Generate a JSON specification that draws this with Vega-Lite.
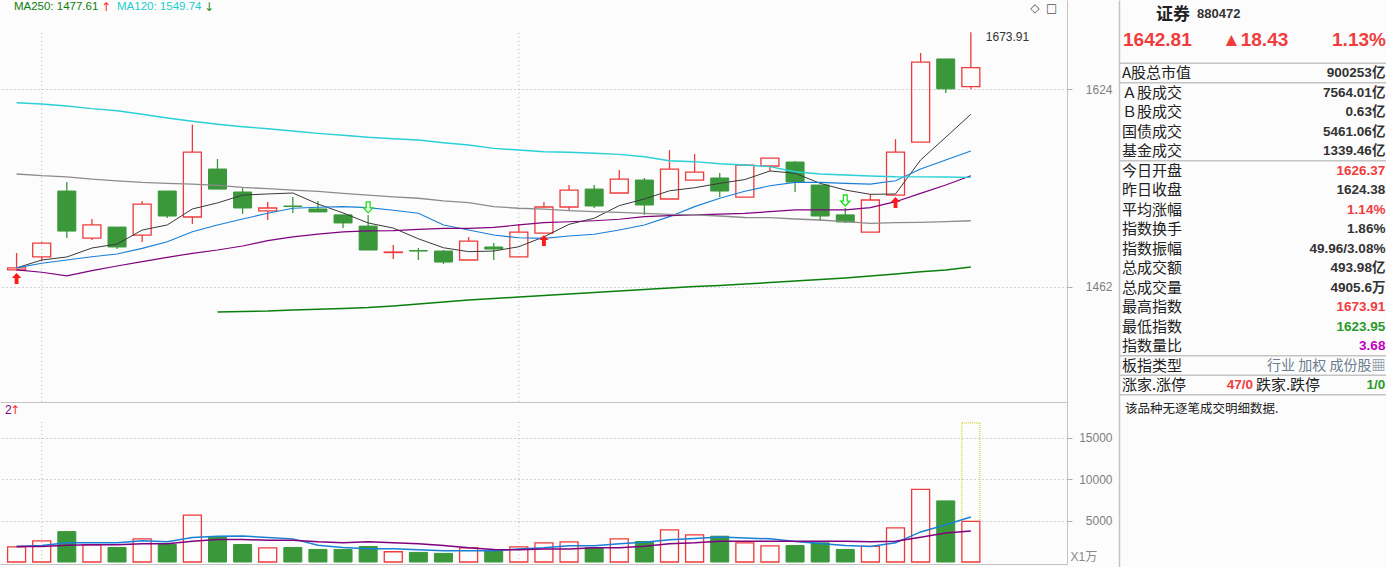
{
  "$schema": "https://vega.github.io/schema/vega-lite/v6.json",
  "background": "#fcfcfc",
  "padding": 0,
  "config": {
    "view": {"stroke": null},
    "font": "Liberation Sans",
    "axisRight": {"grid": true, "gridDash": [1, 3], "gridColor": "#a8a8a8", "gridWidth": 1, "domainColor": "#c4c4c4", "tickColor": "#b0b0b0", "tickSize": 5,
                  "labelColor": "#7f7f7f", "labelFont": "Liberation Sans", "labelFontSize": 12, "labelAlign": "right", "labelBaseline": "middle", "labelPadding": 40,
                  "titleAngle": 0, "titleAlign": "left", "titleBaseline": "bottom", "titleX": 3, "titleY": 161, "titleFontSize": 12, "titleFontWeight": "normal",
                  "titleColor": "#8a8a8a", "titleFont": "Liberation Sans, Noto Sans CJK SC"},
    "axisLeft": {"labels": false, "ticks": false, "grid": false, "domainColor": "#c4c4c4", "domainWidth": 1.5},
    "axisBottom": {"labels": false, "ticks": false, "grid": false, "domainColor": "#c4c4c4"}
  },
  "resolve": {"scale": {"color": "independent", "strokeWidth": "independent"}},
  "datasets": {
    "k": [
      {"i":1,"o":1475.3,"c":1476.9,"h":1488.6,"l":1474.5,"v":1835,"m5":1476.9,"m10":1476.9,"m20":1475.3,"m60":1552.5,"m120":1612.4,"vm5":1875,"vm10":1875,"sig":"B"},
      {"i":2,"o":1485.5,"c":1496.5,"h":1497.3,"l":1482.3,"v":2553,"m5":1483.1,"m10":1480.5,"m20":1473.5,"m60":1551.1,"m120":1611.4,"vm5":1995,"vm10":1875},
      {"i":3,"o":1538.5,"c":1506.1,"h":1545.9,"l":1500.5,"v":3670,"m5":1485.5,"m10":1483.1,"m20":1470.6,"m60":1550.2,"m120":1609.7,"vm5":2314,"vm10":2035},
      {"i":4,"o":1500.5,"c":1511.0,"h":1515.8,"l":1498.9,"v":2074,"m5":1492.6,"m10":1485.7,"m20":1474.8,"m60":1548.3,"m120":1607.4,"vm5":2314,"vm10":2075},
      {"i":5,"o":1509.3,"c":1493.4,"h":1509.3,"l":1491.8,"v":1755,"m5":1495.7,"m10":1487.8,"m20":1478.4,"m60":1546.9,"m120":1605.6,"vm5":2314,"vm10":2075},
      {"i":6,"o":1502.9,"c":1527.9,"h":1530.4,"l":1497.3,"v":2792,"m5":1506.9,"m10":1492.3,"m20":1481.8,"m60":1545.6,"m120":1602.6,"vm5":2554,"vm10":2195},
      {"i":7,"o":1538.5,"c":1518.2,"h":1538.5,"l":1516.6,"v":2114,"m5":1511.0,"m10":1497.5,"m20":1485.2,"m60":1544.8,"m120":1599.4,"vm5":2434,"vm10":2195},
      {"i":8,"o":1517.4,"c":1570.7,"h":1593.7,"l":1511.8,"v":5665,"m5":1523.9,"m10":1505.5,"m20":1488.4,"m60":1544.2,"m120":1596.6,"vm5":2953,"vm10":2514},
      {"i":9,"o":1556.6,"c":1540.1,"h":1564.9,"l":1540.1,"v":3071,"m5":1528.8,"m10":1511.0,"m20":1491.0,"m60":1543.1,"m120":1594.1,"m250":1442.7,"vm5":3112,"vm10":2713},
      {"i":10,"o":1537.7,"c":1524.7,"h":1540.9,"l":1519.9,"v":2114,"m5":1535.2,"m10":1515.8,"m20":1494.2,"m60":1541.5,"m120":1592.0,"m250":1443.1,"vm5":3152,"vm10":2713},
      {"i":11,"o":1522.3,"c":1524.7,"h":1529.6,"l":1515.0,"v":1715,"m5":1536.1,"m10":1520.4,"m20":1498.4,"m60":1540.4,"m120":1590.3,"m250":1443.4,"vm5":2953,"vm10":2633},
      {"i":12,"o":1526.3,"c":1525.9,"h":1533.6,"l":1520.7,"v":1755,"m5":1536.9,"m10":1524.5,"m20":1501.5,"m60":1539.3,"m120":1588.4,"m250":1444.2,"vm5":2793,"vm10":2633},
      {"i":13,"o":1523.9,"c":1521.5,"h":1530.4,"l":1521.5,"v":1516,"m5":1527.9,"m10":1525.3,"m20":1503.7,"m60":1538.2,"m120":1586.4,"m250":1444.7,"vm5":2035,"vm10":2434},
      {"i":14,"o":1519.1,"c":1512.6,"h":1519.1,"l":1508.5,"v":1516,"m5":1520.7,"m10":1525.8,"m20":1505.5,"m60":1536.6,"m120":1584.8,"m250":1445.4,"vm5":1756,"vm10":2314},
      {"i":15,"o":1510.1,"c":1491.0,"h":1519.1,"l":1491.0,"v":1875,"m5":1512.6,"m10":1525.0,"m20":1506.3,"m60":1535.2,"m120":1583.1,"m250":1446.1,"vm5":1596,"vm10":2434,"sig":"S"},
      {"i":16,"o":1489.0,"c":1489.4,"h":1494.9,"l":1483.9,"v":1237,"m5":1508.5,"m10":1522.9,"m20":1506.5,"m60":1533.8,"m120":1581.9,"m250":1447.3,"vm5":1596,"vm10":2314},
      {"i":17,"o":1490.6,"c":1490.2,"h":1492.6,"l":1483.1,"v":1157,"m5":1499.9,"m10":1520.4,"m20":1507.5,"m60":1532.6,"m120":1580.8,"m250":1448.8,"vm5":1476,"vm10":2195},
      {"i":18,"o":1490.2,"c":1481.5,"h":1491.0,"l":1480.0,"v":1037,"m5":1492.8,"m10":1511.0,"m20":1508.3,"m60":1530.4,"m120":1578.5,"m250":1450.4,"vm5":1357,"vm10":1995},
      {"i":19,"o":1483.1,"c":1498.1,"h":1501.3,"l":1483.1,"v":1715,"m5":1489.7,"m10":1506.9,"m20":1508.3,"m60":1529.0,"m120":1576.6,"m250":1451.9,"vm5":1357,"vm10":1716},
      {"i":20,"o":1493.4,"c":1491.8,"h":1496.5,"l":1483.1,"v":1396,"m5":1490.2,"m10":1502.9,"m20":1509.1,"m60":1525.8,"m120":1573.8,"m250":1453.1,"vm5":1357,"vm10":1516},
      {"i":21,"o":1485.5,"c":1505.3,"h":1511.8,"l":1485.5,"v":1835,"m5":1493.6,"m10":1500.7,"m20":1511.0,"m60":1524.5,"m120":1572.4,"m250":1454.2,"vm5":1556,"vm10":1476},
      {"i":22,"o":1504.5,"c":1525.5,"h":1529.6,"l":1504.5,"v":2314,"m5":1501.5,"m10":1500.3,"m20":1512.8,"m60":1523.7,"m120":1571.0,"m250":1455.4,"vm5":1716,"vm10":1556,"sig":"B"},
      {"i":23,"o":1525.5,"c":1539.3,"h":1543.4,"l":1523.1,"v":2434,"m5":1511.5,"m10":1502.1,"m20":1513.6,"m60":1522.5,"m120":1570.5,"m250":1456.5,"vm5":1955,"vm10":1556},
      {"i":24,"o":1540.1,"c":1526.3,"h":1543.4,"l":1524.7,"v":1715,"m5":1516.4,"m10":1503.5,"m20":1514.4,"m60":1521.7,"m120":1569.7,"m250":1457.7,"vm5":1955,"vm10":1716},
      {"i":25,"o":1536.9,"c":1548.3,"h":1555.8,"l":1536.9,"v":2792,"m5":1526.6,"m10":1506.9,"m20":1515.6,"m60":1521.2,"m120":1568.8,"m250":1458.8,"vm5":2195,"vm10":1716},
      {"i":26,"o":1547.5,"c":1527.1,"h":1549.2,"l":1519.1,"v":2474,"m5":1532.0,"m10":1511.0,"m20":1517.7,"m60":1520.4,"m120":1566.8,"m250":1460.0,"vm5":2394,"vm10":1915},
      {"i":27,"o":1532.0,"c":1556.6,"h":1572.4,"l":1532.0,"v":3870,"m5":1538.7,"m10":1517.7,"m20":1518.5,"m60":1519.6,"m120":1563.5,"m250":1461.2,"vm5":2673,"vm10":2195},
      {"i":28,"o":1547.5,"c":1554.1,"h":1569.1,"l":1547.5,"v":3271,"m5":1541.2,"m10":1525.8,"m20":1519.1,"m60":1519.1,"m120":1562.7,"m250":1462.3,"vm5":2833,"vm10":2314},
      {"i":29,"o":1549.2,"c":1538.5,"h":1553.3,"l":1533.6,"v":3112,"m5":1544.8,"m10":1532.6,"m20":1519.7,"m60":1518.2,"m120":1561.0,"m250":1463.1,"vm5":3032,"vm10":2514},
      {"i":30,"o":1533.6,"c":1559.9,"h":1560.8,"l":1533.6,"v":2314,"m5":1547.9,"m10":1538.3,"m20":1520.4,"m60":1517.0,"m120":1560.0,"m250":1464.3,"vm5":2913,"vm10":2514},
      {"i":31,"o":1559.1,"c":1565.7,"h":1565.7,"l":1555.0,"v":1955,"m5":1555.0,"m10":1542.8,"m20":1521.7,"m60":1516.9,"m120":1558.6,"m250":1465.4,"vm5":2793,"vm10":2514},
      {"i":32,"o":1562.4,"c":1545.9,"h":1563.3,"l":1537.7,"v":1995,"m5":1553.1,"m10":1545.6,"m20":1523.1,"m60":1515.8,"m120":1554.4,"m250":1466.6,"vm5":2474,"vm10":2514},
      {"i":33,"o":1543.4,"c":1518.2,"h":1543.4,"l":1514.2,"v":2314,"m5":1544.8,"m10":1545.6,"m20":1523.1,"m60":1515.0,"m120":1552.5,"m250":1467.8,"vm5":2234,"vm10":2514},
      {"i":34,"o":1519.1,"c":1513.4,"h":1524.7,"l":1512.6,"v":1516,"m5":1539.3,"m10":1544.8,"m20":1523.1,"m60":1513.6,"m120":1551.7,"m250":1469.0,"vm5":1995,"vm10":2514,"sig":"S"},
      {"i":35,"o":1505.3,"c":1531.2,"h":1536.1,"l":1505.3,"v":1875,"m5":1535.8,"m10":1544.2,"m20":1525.0,"m60":1512.3,"m120":1550.8,"m250":1470.6,"vm5":1875,"vm10":2434},
      {"i":36,"o":1535.2,"c":1570.7,"h":1581.6,"l":1535.2,"v":4110,"m5":1536.1,"m10":1546.9,"m20":1529.8,"m60":1512.8,"m120":1550.2,"m250":1472.2,"vm5":2314,"vm10":2514,"sig":"B"},
      {"i":37,"o":1579.1,"c":1647.7,"h":1655.7,"l":1579.1,"v":8778,"m5":1564.1,"m10":1556.6,"m20":1536.6,"m60":1513.1,"m120":1550.1,"m250":1473.8,"vm5":3631,"vm10":2993},
      {"i":38,"o":1650.4,"c":1624.38,"h":1650.4,"l":1620.8,"v":7381,"m5":1583.1,"m10":1564.1,"m20":1543.4,"m60":1513.6,"m120":1550.0,"m250":1475.3,"vm5":4509,"vm10":3511},
      {"i":39,"o":1626.37,"c":1642.81,"h":1673.91,"l":1623.95,"v":4905.6,"proj":16798,"m5":1602.6,"m10":1571.6,"m20":1551.1,"m60":1514.4,"m120":1549.74,"m250":1477.61,"vm5":5426,"vm10":3751}
    ],
    "info": [
      {"line":3,"k":"A股总市值","v":"900253亿","vc":"d"},
      {"line":4,"k":"Ａ股成交","v":"7564.01亿","vc":"d"},
      {"line":5,"k":"Ｂ股成交","v":"0.63亿","vc":"d"},
      {"line":6,"k":"国债成交","v":"5461.06亿","vc":"d"},
      {"line":7,"k":"基金成交","v":"1339.46亿","vc":"d"},
      {"line":8,"k":"今日开盘","v":"1626.37","vc":"r"},
      {"line":9,"k":"昨日收盘","v":"1624.38","vc":"d"},
      {"line":10,"k":"平均涨幅","v":"1.14%","vc":"r"},
      {"line":11,"k":"指数换手","v":"1.86%","vc":"d"},
      {"line":12,"k":"指数振幅","v":"49.96/3.08%","vc":"d"},
      {"line":13,"k":"总成交额","v":"493.98亿","vc":"d"},
      {"line":14,"k":"总成交量","v":"4905.6万","vc":"d"},
      {"line":15,"k":"最高指数","v":"1673.91","vc":"r"},
      {"line":16,"k":"最低指数","v":"1623.95","vc":"g"},
      {"line":17,"k":"指数量比","v":"3.68","vc":"p"},
      {"line":18,"k":"板指类型","v":"行业 加权 成份股▦","vc":"s"},
      {"line":19,"k":"涨家.涨停","v":"1/0","vc":"g"}
    ]
  },
  "hconcat": [
    {
      "resolve": {"scale": {"color": "independent", "strokeWidth": "independent"}},
      "vconcat": [
        {
          "width": 1067,
          "height": 402,
          "data": {"name": "k"},
          "layer": [
            {
              "data": {"values": [{"i": 2}, {"i": 21}]},
              "mark": {"type": "rule", "color": "#b4b4b4", "strokeDash": [1, 3], "strokeWidth": 1},
              "encoding": {
                "x": {"field": "i", "type": "quantitative", "scale": {"domain": [0.5385, 42.63], "nice": false, "zero": false}, "axis": {"title": null}},
                "y": {"datum": 1673.5, "type": "quantitative", "scale": {"type": "log", "domain": [1375.27, 1702.96], "nice": false, "zero": false}, "axis": {"orient": "right", "values": [1462, 1624], "format": "d", "title": null}},
                "y2": {"datum": 1375.27}
              }
            },
            {
              "transform": [{"filter": "datum.c >= datum.o"}],
              "mark": {"type": "rule", "color": "#ee3a3a", "strokeWidth": 1.3},
              "encoding": {
                "x": {"field": "i", "type": "quantitative", "scale": {"domain": [0.5385, 42.63], "nice": false, "zero": false}, "axis": {"title": null}},
                "y": {"field": "h", "type": "quantitative", "scale": {"type": "log", "domain": [1375.27, 1702.96], "nice": false, "zero": false}, "axis": {"orient": "right", "values": [1462, 1624], "format": "d", "title": null}},
                "y2": {"field": "c"}
              }
            },
            {
              "transform": [{"filter": "datum.c >= datum.o"}],
              "mark": {"type": "rule", "color": "#ee3a3a", "strokeWidth": 1.3},
              "encoding": {
                "x": {"field": "i", "type": "quantitative", "scale": {"domain": [0.5385, 42.63], "nice": false, "zero": false}, "axis": {"title": null}},
                "y": {"field": "o", "type": "quantitative", "scale": {"type": "log", "domain": [1375.27, 1702.96], "nice": false, "zero": false}, "axis": {"orient": "right", "values": [1462, 1624], "format": "d", "title": null}},
                "y2": {"field": "l"}
              }
            },
            {
              "transform": [{"filter": "datum.c < datum.o"}],
              "mark": {"type": "rule", "color": "#3a983a", "strokeWidth": 1.3},
              "encoding": {
                "x": {"field": "i", "type": "quantitative", "scale": {"domain": [0.5385, 42.63], "nice": false, "zero": false}, "axis": {"title": null}},
                "y": {"field": "h", "type": "quantitative", "scale": {"type": "log", "domain": [1375.27, 1702.96], "nice": false, "zero": false}, "axis": {"orient": "right", "values": [1462, 1624], "format": "d", "title": null}},
                "y2": {"field": "l"}
              }
            },
            {
              "transform": [{"filter": "datum.c >= datum.o"}],
              "mark": {"type": "bar", "size": 18, "fill": "transparent", "stroke": "#ee3a3a", "strokeWidth": 1.3},
              "encoding": {
                "x": {"field": "i", "type": "quantitative", "scale": {"domain": [0.5385, 42.63], "nice": false, "zero": false}, "axis": {"title": null}},
                "y": {"field": "o", "type": "quantitative", "scale": {"type": "log", "domain": [1375.27, 1702.96], "nice": false, "zero": false}, "axis": {"orient": "right", "values": [1462, 1624], "format": "d", "title": null}},
                "y2": {"field": "c"}
              }
            },
            {
              "transform": [{"filter": "datum.c < datum.o"}],
              "mark": {"type": "bar", "size": 18, "fill": "#3a983a", "stroke": "#3a983a", "strokeWidth": 1},
              "encoding": {
                "x": {"field": "i", "type": "quantitative", "scale": {"domain": [0.5385, 42.63], "nice": false, "zero": false}, "axis": {"title": null}},
                "y": {"field": "o", "type": "quantitative", "scale": {"type": "log", "domain": [1375.27, 1702.96], "nice": false, "zero": false}, "axis": {"orient": "right", "values": [1462, 1624], "format": "d", "title": null}},
                "y2": {"field": "c"}
              }
            },
            {
              "transform": [{"fold": ["m5", "m10", "m20", "m60", "m120", "m250"], "as": ["ma", "val"]}],
              "mark": {"type": "line", "interpolate": "linear"},
              "encoding": {
                "x": {"field": "i", "type": "quantitative", "scale": {"domain": [0.5385, 42.63], "nice": false, "zero": false}, "axis": {"title": null}},
                "y": {"field": "val", "type": "quantitative", "scale": {"type": "log", "domain": [1375.27, 1702.96], "nice": false, "zero": false}, "axis": {"orient": "right", "values": [1462, 1624], "format": "d", "title": null}},
                "color": {"field": "ma", "type": "nominal", "scale": {"domain": ["m5", "m10", "m20", "m60", "m120", "m250"], "range": ["#3a3a3a", "#1a7fd6", "#800080", "#8c8c8c", "#2ad0d6", "#0b7f0b"]}, "legend": null},
                "strokeWidth": {"field": "ma", "type": "ordinal", "scale": {"domain": ["m5", "m10", "m20", "m60", "m120", "m250"], "range": [1, 1.5, 1.5, 1.3, 1.5, 1.5]}, "legend": null}
              }
            },
            {
              "transform": [{"filter": "datum.sig == 'B'"}],
              "mark": {"type": "point", "shape": "M0,-1L0.85,-0.1L0.35,-0.1L0.35,1L-0.35,1L-0.35,-0.1L-0.85,-0.1Z", "size": 121, "filled": true, "fill": "#ff1a1a", "strokeWidth": 0, "opacity": 1, "yOffset": 7.5},
              "encoding": {
                "x": {"field": "i", "type": "quantitative", "scale": {"domain": [0.5385, 42.63], "nice": false, "zero": false}, "axis": {"title": null}},
                "y": {"field": "l", "type": "quantitative", "scale": {"type": "log", "domain": [1375.27, 1702.96], "nice": false, "zero": false}, "axis": {"orient": "right", "values": [1462, 1624], "format": "d", "title": null}}
              }
            },
            {
              "transform": [{"filter": "datum.sig == 'S'"}],
              "mark": {"type": "point", "shape": "M0,1L0.85,0.1L0.35,0.1L0.35,-1L-0.35,-1L-0.35,0.1L-0.85,0.1Z", "size": 121, "filled": true, "fill": "#fcfcfc", "stroke": "#1ee01e", "strokeWidth": 1.3, "opacity": 1, "yOffset": -7.5},
              "encoding": {
                "x": {"field": "i", "type": "quantitative", "scale": {"domain": [0.5385, 42.63], "nice": false, "zero": false}, "axis": {"title": null}},
                "y": {"field": "h", "type": "quantitative", "scale": {"type": "log", "domain": [1375.27, 1702.96], "nice": false, "zero": false}, "axis": {"orient": "right", "values": [1462, 1624], "format": "d", "title": null}}
              }
            },
            {
              "transform": [{"filter": "datum.i == 39"}],
              "mark": {"type": "text", "align": "left", "baseline": "middle", "dx": 15, "dy": 5, "font": "Liberation Sans", "fontSize": 12, "color": "#333333"},
              "encoding": {
                "x": {"field": "i", "type": "quantitative", "scale": {"domain": [0.5385, 42.63], "nice": false, "zero": false}, "axis": {"title": null}},
                "y": {"field": "h", "type": "quantitative", "scale": {"type": "log", "domain": [1375.27, 1702.96], "nice": false, "zero": false}, "axis": {"orient": "right", "values": [1462, 1624], "format": "d", "title": null}},
                "text": {"field": "h", "type": "quantitative", "format": ".2f"}
              }
            },
            {
              "data": {"values": [{"t": "MA250: 1477.61"}]},
              "mark": {"type": "text", "align": "left", "baseline": "middle", "font": "Liberation Sans", "fontSize": 11.5, "color": "#0b7f0b"},
              "encoding": {
                "x": {"datum": 0.8935, "type": "quantitative", "scale": {"domain": [0.5385, 42.63], "nice": false, "zero": false}, "axis": {"title": null}},
                "y": {"datum": 1696.6, "type": "quantitative", "scale": {"type": "log", "domain": [1375.27, 1702.96], "nice": false, "zero": false}, "axis": {"orient": "right", "values": [1462, 1624], "format": "d", "title": null}},
                "text": {"field": "t"}
              }
            },
            {
              "data": {"values": [{"t": "↑"}]},
              "mark": {"type": "text", "align": "center", "baseline": "middle", "font": "DejaVu Sans", "fontSize": 12, "color": "#ff2a2a"},
              "encoding": {
                "x": {"datum": 4.56, "type": "quantitative", "scale": {"domain": [0.5385, 42.63], "nice": false, "zero": false}, "axis": {"title": null}},
                "y": {"datum": 1696.6, "type": "quantitative", "scale": {"type": "log", "domain": [1375.27, 1702.96], "nice": false, "zero": false}, "axis": {"orient": "right", "values": [1462, 1624], "format": "d", "title": null}},
                "text": {"field": "t"}
              }
            },
            {
              "data": {"values": [{"t": "MA120: 1549.74"}]},
              "mark": {"type": "text", "align": "left", "baseline": "middle", "font": "Liberation Sans", "fontSize": 11.5, "color": "#22cccc"},
              "encoding": {
                "x": {"datum": 5.0, "type": "quantitative", "scale": {"domain": [0.5385, 42.63], "nice": false, "zero": false}, "axis": {"title": null}},
                "y": {"datum": 1696.6, "type": "quantitative", "scale": {"type": "log", "domain": [1375.27, 1702.96], "nice": false, "zero": false}, "axis": {"orient": "right", "values": [1462, 1624], "format": "d", "title": null}},
                "text": {"field": "t"}
              }
            },
            {
              "data": {"values": [{"t": "↓"}]},
              "mark": {"type": "text", "align": "center", "baseline": "middle", "font": "DejaVu Sans", "fontSize": 12, "color": "#2a8a2a"},
              "encoding": {
                "x": {"datum": 8.66, "type": "quantitative", "scale": {"domain": [0.5385, 42.63], "nice": false, "zero": false}, "axis": {"title": null}},
                "y": {"datum": 1696.6, "type": "quantitative", "scale": {"type": "log", "domain": [1375.27, 1702.96], "nice": false, "zero": false}, "axis": {"orient": "right", "values": [1462, 1624], "format": "d", "title": null}},
                "text": {"field": "t"}
              }
            },
            {
              "data": {"values": [{"t": "◇"}]},
              "mark": {"type": "text", "align": "center", "baseline": "middle", "font": "DejaVu Sans", "fontSize": 12, "color": "#555555"},
              "encoding": {
                "x": {"datum": 41.55, "type": "quantitative", "scale": {"domain": [0.5385, 42.63], "nice": false, "zero": false}, "axis": {"title": null}},
                "y": {"datum": 1695.5, "type": "quantitative", "scale": {"type": "log", "domain": [1375.27, 1702.96], "nice": false, "zero": false}, "axis": {"orient": "right", "values": [1462, 1624], "format": "d", "title": null}},
                "text": {"field": "t"}
              }
            },
            {
              "data": {"values": [{"t": "□"}]},
              "mark": {"type": "text", "align": "center", "baseline": "middle", "font": "DejaVu Sans", "fontSize": 12, "color": "#555555"},
              "encoding": {
                "x": {"datum": 42.22, "type": "quantitative", "scale": {"domain": [0.5385, 42.63], "nice": false, "zero": false}, "axis": {"title": null}},
                "y": {"datum": 1695.5, "type": "quantitative", "scale": {"type": "log", "domain": [1375.27, 1702.96], "nice": false, "zero": false}, "axis": {"orient": "right", "values": [1462, 1624], "format": "d", "title": null}},
                "text": {"field": "t"}
              }
            }
          ]
        },
        {
          "width": 1067,
          "height": 162,
          "data": {"name": "k"},
          "layer": [
            {
              "data": {"values": [{"i": 2}, {"i": 21}]},
              "mark": {"type": "rule", "color": "#b4b4b4", "strokeDash": [1, 3], "strokeWidth": 1},
              "encoding": {
                "x": {"field": "i", "type": "quantitative", "scale": {"domain": [0.5385, 42.63], "nice": false, "zero": false}, "axis": {"title": null}},
                "y": {"datum": 16900, "type": "quantitative", "scale": {"domain": [-242, 19324], "nice": false, "zero": false}, "axis": {"orient": "right", "values": [5000, 10000, 15000], "format": "d", "title": "X1万"}},
                "y2": {"datum": -242}
              }
            },
            {
              "transform": [{"filter": "datum.proj != null"}],
              "mark": {"type": "bar", "size": 18, "fill": "transparent", "stroke": "#c8c800", "strokeWidth": 1, "strokeDash": [1, 1]},
              "encoding": {
                "x": {"field": "i", "type": "quantitative", "scale": {"domain": [0.5385, 42.63], "nice": false, "zero": false}, "axis": {"title": null}},
                "y": {"field": "proj", "type": "quantitative", "scale": {"domain": [-242, 19324], "nice": false, "zero": false}, "axis": {"orient": "right", "values": [5000, 10000, 15000], "format": "d", "title": "X1万"}},
                "y2": {"field": "v"}
              }
            },
            {
              "transform": [{"filter": "datum.c >= datum.o"}],
              "mark": {"type": "bar", "size": 18, "fill": "transparent", "stroke": "#ee3a3a", "strokeWidth": 1.3},
              "encoding": {
                "x": {"field": "i", "type": "quantitative", "scale": {"domain": [0.5385, 42.63], "nice": false, "zero": false}, "axis": {"title": null}},
                "y": {"field": "v", "type": "quantitative", "scale": {"domain": [-242, 19324], "nice": false, "zero": false}, "axis": {"orient": "right", "values": [5000, 10000, 15000], "format": "d", "title": "X1万"}},
                "y2": {"datum": 0}
              }
            },
            {
              "transform": [{"filter": "datum.c < datum.o"}],
              "mark": {"type": "bar", "size": 18, "fill": "#3a983a", "stroke": "#3a983a", "strokeWidth": 1},
              "encoding": {
                "x": {"field": "i", "type": "quantitative", "scale": {"domain": [0.5385, 42.63], "nice": false, "zero": false}, "axis": {"title": null}},
                "y": {"field": "v", "type": "quantitative", "scale": {"domain": [-242, 19324], "nice": false, "zero": false}, "axis": {"orient": "right", "values": [5000, 10000, 15000], "format": "d", "title": "X1万"}},
                "y2": {"datum": 0}
              }
            },
            {
              "transform": [{"fold": ["vm5", "vm10"], "as": ["vma", "vval"]}],
              "mark": {"type": "line", "strokeWidth": 1.5},
              "encoding": {
                "x": {"field": "i", "type": "quantitative", "scale": {"domain": [0.5385, 42.63], "nice": false, "zero": false}, "axis": {"title": null}},
                "y": {"field": "vval", "type": "quantitative", "scale": {"domain": [-242, 19324], "nice": false, "zero": false}, "axis": {"orient": "right", "values": [5000, 10000, 15000], "format": "d", "title": "X1万"}},
                "color": {"field": "vma", "type": "nominal", "scale": {"domain": ["vm5", "vm10"], "range": ["#1a7fd6", "#800080"]}, "legend": null}
              }
            },
            {
              "data": {"values": [{"t": "2"}]},
              "mark": {"type": "text", "align": "left", "baseline": "middle", "font": "Liberation Sans", "fontSize": 12, "color": "#800080"},
              "encoding": {
                "x": {"datum": 0.5385, "type": "quantitative", "scale": {"domain": [0.5385, 42.63], "nice": false, "zero": false}, "axis": {"title": null}},
                "y": {"datum": 18357, "type": "quantitative", "scale": {"domain": [-242, 19324], "nice": false, "zero": false}, "axis": {"orient": "right", "values": [5000, 10000, 15000], "format": "d", "title": "X1万"}},
                "text": {"field": "t"}
              }
            },
            {
              "data": {"values": [{"t": "↑"}]},
              "mark": {"type": "text", "align": "center", "baseline": "middle", "font": "DejaVu Sans", "fontSize": 12, "color": "#ff2a2a"},
              "encoding": {
                "x": {"datum": 0.94, "type": "quantitative", "scale": {"domain": [0.5385, 42.63], "nice": false, "zero": false}, "axis": {"title": null}},
                "y": {"datum": 18357, "type": "quantitative", "scale": {"domain": [-242, 19324], "nice": false, "zero": false}, "axis": {"orient": "right", "values": [5000, 10000, 15000], "format": "d", "title": "X1万"}},
                "text": {"field": "t"}
              }
            }
          ]
        }
      ],
      "spacing": 0,
      "bounds": "flush"
    },
    {
      "width": 268,
      "height": 567,
      "layer": [
        {
          "data": {"values": [{"after": 2}, {"after": 3}, {"after": 7}, {"after": 17}, {"after": 18}, {"after": 19}]},
          "mark": {"type": "rule", "color": "#c4c4c4", "strokeWidth": 1.5, "yOffset": 9.75},
          "encoding": {
            "y": {"field": "after", "type": "quantitative", "scale": {"domain": [-0.7436, 28.333], "nice": false, "zero": false, "reverse": true}, "axis": {"orient": "left", "title": null}}
          }
        },
        {
          "data": {"name": "info"},
          "mark": {"type": "text", "align": "left", "baseline": "middle", "font": "Noto Sans CJK SC", "fontSize": 15, "color": "#222222"},
          "encoding": {
            "x": {"datum": 1.1, "type": "quantitative", "scale": {"domain": [0, 100], "nice": false, "zero": false}, "axis": null},
            "y": {"field": "line", "type": "quantitative", "scale": {"domain": [-0.7436, 28.333], "nice": false, "zero": false, "reverse": true}, "axis": {"orient": "left", "title": null}},
            "text": {"field": "k"}
          }
        },
        {
          "data": {"name": "info"},
          "transform": [{"filter": "datum.vc != 's'"}],
          "mark": {"type": "text", "align": "right", "baseline": "middle", "font": "Liberation Sans, Noto Sans CJK SC", "fontSize": 13.5, "fontWeight": "bold"},
          "encoding": {
            "x": {"datum": 99.4, "type": "quantitative", "scale": {"domain": [0, 100], "nice": false, "zero": false}, "axis": null},
            "y": {"field": "line", "type": "quantitative", "scale": {"domain": [-0.7436, 28.333], "nice": false, "zero": false, "reverse": true}, "axis": {"orient": "left", "title": null}},
            "text": {"field": "v"},
            "color": {"field": "vc", "type": "nominal", "scale": {"domain": ["d", "r", "g", "p", "s"], "range": ["#333333", "#f03c3c", "#2a9a2a", "#c000c0", "#6b7d8f"]}, "legend": null}
          }
        },
        {
          "data": {"name": "info"},
          "transform": [{"filter": "datum.vc == 's'"}],
          "mark": {"type": "text", "align": "right", "baseline": "middle", "font": "Noto Sans CJK SC", "fontSize": 14, "color": "#6b7d8f"},
          "encoding": {
            "x": {"datum": 99.4, "type": "quantitative", "scale": {"domain": [0, 100], "nice": false, "zero": false}, "axis": null},
            "y": {"field": "line", "type": "quantitative", "scale": {"domain": [-0.7436, 28.333], "nice": false, "zero": false, "reverse": true}, "axis": {"orient": "left", "title": null}},
            "text": {"field": "v"}
          }
        },
        {
          "data": {"values": [{"line": 19, "t": "47/0"}]},
          "mark": {"type": "text", "align": "right", "baseline": "middle", "font": "Liberation Sans", "fontSize": 13.5, "fontWeight": "bold", "color": "#f03c3c"},
          "encoding": {
            "x": {"datum": 50.0, "type": "quantitative", "scale": {"domain": [0, 100], "nice": false, "zero": false}, "axis": null},
            "y": {"field": "line", "type": "quantitative", "scale": {"domain": [-0.7436, 28.333], "nice": false, "zero": false, "reverse": true}, "axis": {"orient": "left", "title": null}},
            "text": {"field": "t"}
          }
        },
        {
          "data": {"values": [{"line": 19, "t": "跌家.跌停"}]},
          "mark": {"type": "text", "align": "left", "baseline": "middle", "font": "Noto Sans CJK SC", "fontSize": 15, "color": "#222222"},
          "encoding": {
            "x": {"datum": 51.1, "type": "quantitative", "scale": {"domain": [0, 100], "nice": false, "zero": false}, "axis": null},
            "y": {"field": "line", "type": "quantitative", "scale": {"domain": [-0.7436, 28.333], "nice": false, "zero": false, "reverse": true}, "axis": {"orient": "left", "title": null}},
            "text": {"field": "t"}
          }
        },
        {
          "data": {"values": [{"t": "证券"}]},
          "mark": {"type": "text", "align": "left", "baseline": "middle", "font": "Noto Sans CJK SC", "fontSize": 17, "fontWeight": "bold", "color": "#222222"},
          "encoding": {
            "x": {"datum": 13.8, "type": "quantitative", "scale": {"domain": [0, 100], "nice": false, "zero": false}, "axis": null},
            "y": {"datum": 0.0, "type": "quantitative", "scale": {"domain": [-0.7436, 28.333], "nice": false, "zero": false, "reverse": true}, "axis": {"orient": "left", "title": null}},
            "text": {"field": "t"}
          }
        },
        {
          "data": {"values": [{"t": "880472"}]},
          "mark": {"type": "text", "align": "left", "baseline": "middle", "font": "Liberation Sans", "fontSize": 13, "fontWeight": "bold", "color": "#333333"},
          "encoding": {
            "x": {"datum": 29.1, "type": "quantitative", "scale": {"domain": [0, 100], "nice": false, "zero": false}, "axis": null},
            "y": {"datum": -0.02, "type": "quantitative", "scale": {"domain": [-0.7436, 28.333], "nice": false, "zero": false, "reverse": true}, "axis": {"orient": "left", "title": null}},
            "text": {"field": "t"}
          }
        },
        {
          "data": {"values": [{"t": "1642.81"}]},
          "mark": {"type": "text", "align": "left", "baseline": "middle", "font": "Liberation Sans", "fontSize": 19, "fontWeight": "bold", "color": "#f03c3c"},
          "encoding": {
            "x": {"datum": 1.5, "type": "quantitative", "scale": {"domain": [0, 100], "nice": false, "zero": false}, "axis": null},
            "y": {"datum": 1.31, "type": "quantitative", "scale": {"domain": [-0.7436, 28.333], "nice": false, "zero": false, "reverse": true}, "axis": {"orient": "left", "title": null}},
            "text": {"field": "t"}
          }
        },
        {
          "data": {"values": [{"t": "▲18.43"}]},
          "mark": {"type": "text", "align": "left", "baseline": "middle", "font": "Liberation Sans, DejaVu Sans", "fontSize": 19, "fontWeight": "bold", "color": "#f03c3c"},
          "encoding": {
            "x": {"datum": 38.4, "type": "quantitative", "scale": {"domain": [0, 100], "nice": false, "zero": false}, "axis": null},
            "y": {"datum": 1.31, "type": "quantitative", "scale": {"domain": [-0.7436, 28.333], "nice": false, "zero": false, "reverse": true}, "axis": {"orient": "left", "title": null}},
            "text": {"field": "t"}
          }
        },
        {
          "data": {"values": [{"t": "1.13%"}]},
          "mark": {"type": "text", "align": "right", "baseline": "middle", "font": "Liberation Sans", "fontSize": 19, "fontWeight": "bold", "color": "#f03c3c"},
          "encoding": {
            "x": {"datum": 99.6, "type": "quantitative", "scale": {"domain": [0, 100], "nice": false, "zero": false}, "axis": null},
            "y": {"datum": 1.31, "type": "quantitative", "scale": {"domain": [-0.7436, 28.333], "nice": false, "zero": false, "reverse": true}, "axis": {"orient": "left", "title": null}},
            "text": {"field": "t"}
          }
        },
        {
          "data": {"values": [{"t": "该品种无逐笔成交明细数据."}]},
          "mark": {"type": "text", "align": "left", "baseline": "middle", "font": "Noto Sans CJK SC", "fontSize": 12.5, "color": "#222222"},
          "encoding": {
            "x": {"datum": 2.2, "type": "quantitative", "scale": {"domain": [0, 100], "nice": false, "zero": false}, "axis": null},
            "y": {"datum": 20.23, "type": "quantitative", "scale": {"domain": [-0.7436, 28.333], "nice": false, "zero": false, "reverse": true}, "axis": {"orient": "left", "title": null}},
            "text": {"field": "t"}
          }
        }
      ]
    }
  ],
  "spacing": 6
}
